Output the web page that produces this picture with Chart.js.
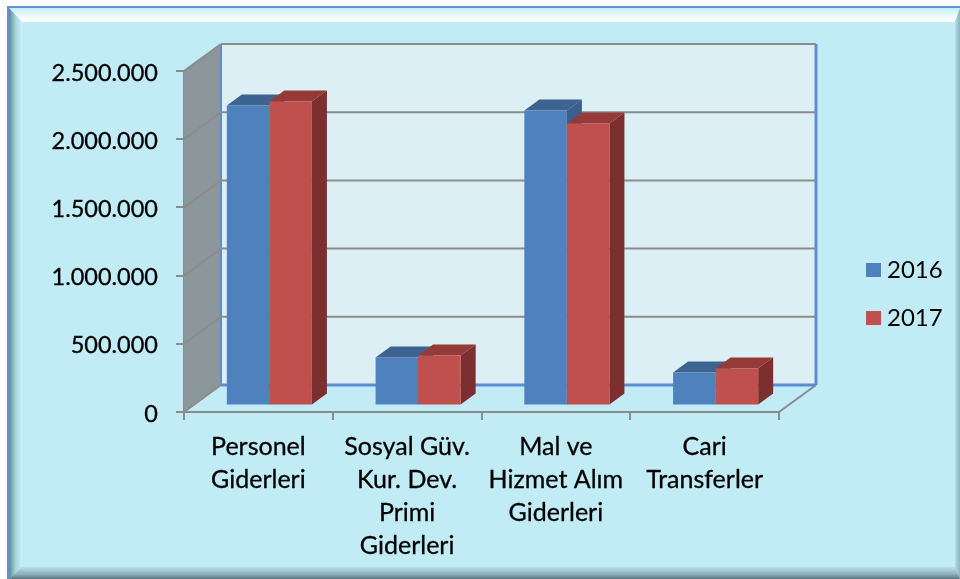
<!DOCTYPE html>
<html>
<head>
<meta charset="utf-8">
<style>
  html, body { margin: 0; padding: 0; background: #fff; }
  #wrap { width: 960px; height: 579px; }
</style>
</head>
<body>
<div id="wrap"><canvas id="myChart" width="960" height="579"></canvas></div>
<script src="https://cdn.jsdelivr.net/npm/chart.js@4"></script>
<script>
// values
var categories = [
  ['Personel', 'Giderleri'],
  ['Sosyal Güv.', 'Kur. Dev.', 'Primi', 'Giderleri'],
  ['Mal ve', 'Hizmet Alım', 'Giderleri'],
  ['Cari', 'Transferler']
];
var values2016 = [2200000, 352000, 2163000, 242000];
var values2017 = [2229000, 367000, 2067000, 271000];
var yTickLabels = ['0', '500.000', '1.000.000', '1.500.000', '2.000.000', '2.500.000'];

var FONT = 'Lato';
var WALL_DX = 37, WALL_DY = -27;   // depth of the chart box
var BAR_SHIFT_X = 11, BAR_SHIFT_Y = -6.5; // bars stand in the middle of the floor
var BAR_DX = 15, BAR_DY = -11;     // depth of one bar
var GREY = '#8b8b8b', WALL_BLUE = '#5c8dd3';

function poly(ctx, pts, fill) {
  ctx.beginPath();
  ctx.moveTo(pts[0][0], pts[0][1]);
  for (var i = 1; i < pts.length; i++) ctx.lineTo(pts[i][0], pts[i][1]);
  ctx.closePath();
  ctx.fillStyle = fill;
  ctx.fill();
}

function line(ctx, x1, y1, x2, y2, color, width) {
  ctx.beginPath();
  ctx.moveTo(x1, y1);
  ctx.lineTo(x2, y2);
  ctx.strokeStyle = color;
  ctx.lineWidth = width;
  ctx.stroke();
}

function gradient(ctx, x1, y1, x2, y2, stops) {
  var g = ctx.createLinearGradient(x1, y1, x2, y2);
  stops.forEach(function(s) { g.addColorStop(s[0], s[1]); });
  return g;
}

// light blue panel with bevelled edges
var panelPlugin = {
  id: 'panel',
  beforeDraw: function(chart) {
    var ctx = chart.ctx;
    ctx.save();
    ctx.fillStyle = '#ffffff';
    ctx.fillRect(0, 0, 960, 579);
    ctx.fillStyle = '#6491d2';
    ctx.fillRect(7, 6, 953, 573);
    ctx.fillStyle = '#c1ecf6';
    ctx.fillRect(9, 8, 951, 571);
    poly(ctx, [[9, 8], [960, 8], [955, 22], [22, 22]],
      gradient(ctx, 0, 8, 0, 22, [[0, '#c3eff7'], [0.8, '#fdffff'], [1, '#ffffff']]));
    poly(ctx, [[9, 8], [22, 22], [22, 567], [9, 579]],
      gradient(ctx, 9, 0, 22, 0, [[0, '#5e8a9a'], [0.5, '#a5d3de'], [1, '#c8f0f8']]));
    poly(ctx, [[960, 8], [955, 22], [955, 567], [960, 579]],
      gradient(ctx, 955, 0, 960, 0, [[0, '#b4dde6'], [1, '#8fb4bd']]));
    poly(ctx, [[9, 579], [960, 579], [955, 567], [22, 567]],
      gradient(ctx, 0, 567, 0, 579, [[0, '#b8e0e8'], [0.6, '#8fb0b8'], [1, '#5a7680']]));
    ctx.restore();
  },
  // back wall, side wall, floor and the gridlines on them
  beforeDatasetsDraw: function(chart) {
    var ctx = chart.ctx, y = chart.scales.y, a = chart.chartArea;
    var l = a.left, r = a.right, t = y.getPixelForValue(2500000), b = y.getPixelForValue(0);
    ctx.save();
    poly(ctx, [[l + WALL_DX, t + WALL_DY], [r + WALL_DX, t + WALL_DY], [r + WALL_DX, b + WALL_DY], [l + WALL_DX, b + WALL_DY]], '#dceff5');
    poly(ctx, [[l, t], [l + WALL_DX, t + WALL_DY], [l + WALL_DX, b + WALL_DY], [l, b]], '#8b979b');
    line(ctx, r, b, r + WALL_DX, b + WALL_DY, GREY, 2);
    line(ctx, l + WALL_DX, t + WALL_DY, l + WALL_DX, b + WALL_DY, WALL_BLUE, 2);
    line(ctx, r + WALL_DX, t + WALL_DY, r + WALL_DX, b + WALL_DY, WALL_BLUE, 3);
    line(ctx, l + WALL_DX, b + WALL_DY, r + WALL_DX, b + WALL_DY, WALL_BLUE, 3);
    y.ticks.forEach(function(tick) {
      var py = y.getPixelForValue(tick.value);
      line(ctx, l, py, l + WALL_DX, py + WALL_DY, GREY, 2);
      if (tick.value > 0) line(ctx, l + WALL_DX, py + WALL_DY, r + WALL_DX, py + WALL_DY, GREY, 2);
    });
    ctx.restore();
  },
  // chart.js paints the first dataset last, here the right hand bar has to cover the left one
  beforeDatasetDraw: function() {
    return false;
  },
  afterDatasetsDraw: function(chart) {
    var ctx = chart.ctx;
    ctx.save();
    ctx.translate(BAR_SHIFT_X, BAR_SHIFT_Y);
    chart.data.datasets.forEach(function(ds, i) {
      var meta = chart.getDatasetMeta(i);
      meta.data.forEach(function(bar) {
        var x2 = bar.x + bar.width / 2, x1 = bar.x - bar.width / 2;
        poly(ctx, [[x1, bar.y], [x1 + BAR_DX, bar.y + BAR_DY], [x2 + BAR_DX, bar.y + BAR_DY], [x2, bar.y]], ds.topColor);
        poly(ctx, [[x2, bar.y], [x2 + BAR_DX, bar.y + BAR_DY], [x2 + BAR_DX, bar.base + BAR_DY], [x2, bar.base]], ds.sideColor);
      });
      meta.controller.draw();
    });
    ctx.restore();
  },
  // the legend sits to the right of the box
  afterLayout: function(chart) {
    var lg = chart.legend;
    lg.left = 847; lg.right = 960;
    lg.top = 234; lg.bottom = 579;
  }
};

function swatch(color) {
  var c = document.createElement('canvas');
  c.width = 15; c.height = 14;
  var x = c.getContext('2d');
  x.fillStyle = color;
  x.fillRect(0, 0, 15, 14);
  return c;
}

var ctx = document.getElementById('myChart').getContext('2d');
var myChart = new Chart(ctx, {
  type: 'bar',
  data: {
    labels: categories,
    datasets: [
      { label: '2016', data: values2016, backgroundColor: '#4f81bd', topColor: '#3d6391', sideColor: '#3a5f8c',
        categoryPercentage: 0.572, barPercentage: 1, clip: false },
      { label: '2017', data: values2017, backgroundColor: '#c0504d', topColor: '#953a38', sideColor: '#7b2f2e',
        categoryPercentage: 0.572, barPercentage: 1, clip: false }
    ]
  },
  plugins: [panelPlugin],
  options: {
    responsive: false,
    animation: false,
    layout: { padding: { top: 71, right: 181, left: 0, bottom: 0 } },
    plugins: {
      title: { display: false },
      tooltip: { enabled: false },
      legend: {
        position: 'chartArea',
        align: 'start',
        labels: {
          usePointStyle: true,
          pointStyleWidth: 4,
          padding: 24,
          color: '#000',
          font: { family: FONT, size: 24 },
          generateLabels: function(chart) {
            return chart.data.datasets.map(function(ds, i) {
              return { text: ds.label, fontColor: '#000', pointStyle: swatch(ds.backgroundColor), datasetIndex: i, lineWidth: 0, strokeStyle: 'transparent', fillStyle: ds.backgroundColor };
            });
          }
        }
      }
    },
    scales: {
      x: {
        afterFit: function(scale) { scale.height = 167; },
        border: { color: GREY, width: 2 },
        grid: { drawOnChartArea: false, drawTicks: true, tickLength: 8, color: GREY, lineWidth: 2 },
        ticks: {
          color: '#000', padding: 11, maxRotation: 0, autoSkip: false,
          textStrokeColor: '#000', textStrokeWidth: 0.3,
          font: { family: FONT, size: 25, lineHeight: 1.31 }
        }
      },
      y: {
        min: 0,
        max: 2500000,
        afterFit: function(scale) { scale.width = 184; },
        border: { color: GREY, width: 2 },
        grid: { drawOnChartArea: false, drawTicks: true, tickLength: 8, color: GREY, lineWidth: 2 },
        ticks: {
          stepSize: 500000,
          color: '#000',
          padding: 18,
          textStrokeColor: '#000', textStrokeWidth: 0.3,
          // tiny empty first line moves the label 2px down, like the original
          font: { family: FONT, size: 23.5, lineHeight: 0.17 },
          callback: function(value, index) { return ['', yTickLabels[index]]; }
        }
      }
    }
  }
});
</script>
</body>
</html>
